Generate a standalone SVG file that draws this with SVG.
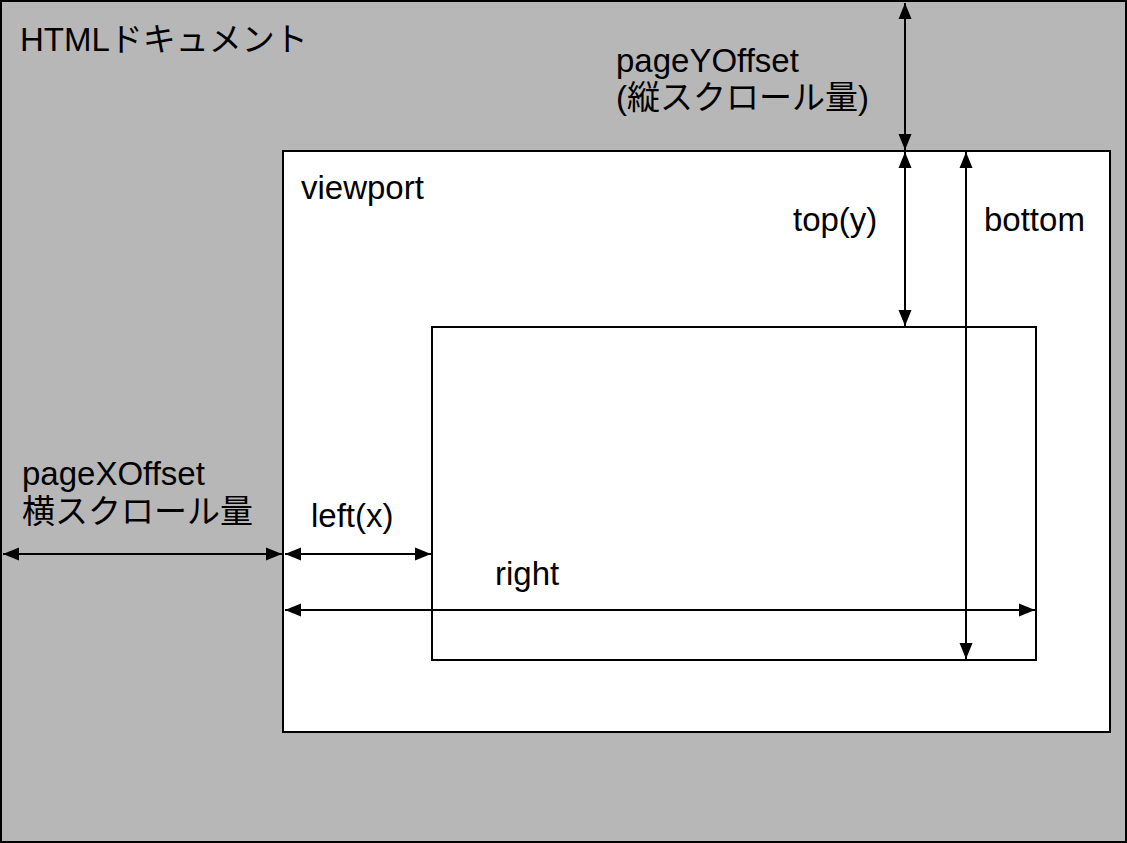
<svg xmlns="http://www.w3.org/2000/svg" width="1127" height="843" viewBox="0 0 1127 843">
<style>
.t{font-family:"Liberation Sans","Noto Sans CJK JP",sans-serif;font-size:33px;fill:#000}
.box{stroke:#000;stroke-width:2}
.arr{stroke:#000;stroke-width:2;fill:none;marker-start:url(#ah);marker-end:url(#ah)}
</style>
<defs>
<marker id="ah" markerUnits="userSpaceOnUse" markerWidth="16" markerHeight="14" refX="16" refY="7" orient="auto-start-reverse" viewBox="0 0 16 14">
<path d="M0,0.5 L16,7 L0,13.5 z" fill="#000"/>
</marker>
</defs>
<g id="document">
<rect class="box" x="1" y="1" width="1125" height="841" fill="#b7b7b7"/>
<text class="t" x="20" y="51">HTMLドキュメント</text>
</g>
<g id="viewport">
<rect class="box" x="283" y="151" width="827" height="581" fill="#fff"/>
<text class="t" x="301" y="199">viewport</text>
</g>
<g id="element">
<rect class="box" x="432" y="327" width="604" height="333" fill="#fff"/>
</g>
<g id="connectors">
<line class="arr" x1="905" y1="3" x2="905" y2="150"/>
<line class="arr" x1="905" y1="152" x2="905" y2="326"/>
<line class="arr" x1="966" y1="152" x2="966" y2="659"/>
<line class="arr" x1="3" y1="554" x2="282" y2="554"/>
<line class="arr" x1="285" y1="554" x2="431" y2="554"/>
<line class="arr" x1="285" y1="610" x2="1035" y2="610"/>
</g>
<g id="labels">
<text class="t" x="616" y="72">pageYOffset</text>
<text class="t" x="616" y="109">(縦スクロール量)</text>
<text class="t" x="793" y="231">top(y)</text>
<text class="t" x="984" y="231">bottom</text>
<text class="t" x="22" y="485">pageXOffset</text>
<text class="t" x="22" y="523">横スクロール量</text>
<text class="t" x="311" y="527">left(x)</text>
<text class="t" x="495" y="585">right</text>
</g>
</svg>
